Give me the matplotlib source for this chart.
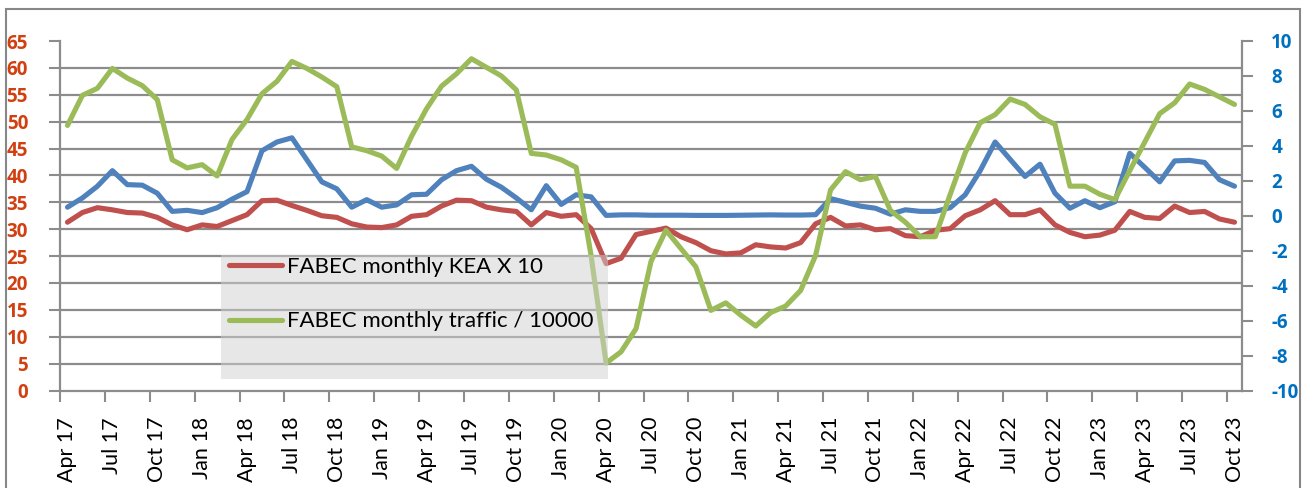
import matplotlib
matplotlib.use('Agg')
import matplotlib.pyplot as plt
from matplotlib.patches import Rectangle
import numpy as np

plt.rcParams['font.family'] = ['Lato', 'DejaVu Sans']
plt.rcParams['axes.unicode_minus'] = False

# ---------------- data (monthly, Apr 2017 .. Oct 2023) ----------------
tick_labels = ["Apr 17", "Jul 17", "Oct 17", "Jan 18", "Apr 18", "Jul 18", "Oct 18",
               "Jan 19", "Apr 19", "Jul 19", "Oct 19", "Jan 20", "Apr 20", "Jul 20",
               "Oct 20", "Jan 21", "Apr 21", "Jul 21", "Oct 21", "Jan 22", "Apr 22",
               "Jul 22", "Oct 22", "Jan 23", "Apr 23", "Jul 23", "Oct 23"]

kea_x10 = [31.3, 33.1, 34.0, 33.6, 33.1, 33.0, 32.2, 30.8, 29.9, 30.8, 30.5, 31.6, 32.7,
           35.3, 35.4, 34.4, 33.5, 32.5, 32.2, 31.0, 30.4, 30.3, 30.8, 32.4, 32.7, 34.3,
           35.4, 35.3, 34.1, 33.6, 33.3, 30.8, 33.1, 32.4, 32.7, 30.1, 23.6, 24.6, 29.0,
           29.6, 30.2, 28.6, 27.5, 26.0, 25.4, 25.6, 27.1, 26.7, 26.5, 27.5, 31.0, 32.2,
           30.6, 30.8, 29.9, 30.1, 28.8, 28.6, 29.8, 30.1, 32.5, 33.6, 35.3, 32.7, 32.7,
           33.6, 30.8, 29.4, 28.6, 28.9, 29.8, 33.3, 32.2, 32.0, 34.3, 33.1, 33.3, 31.9,
           31.3]

traffic_10k = [49.3, 54.9, 56.2, 59.9, 58.1, 56.7, 54.1, 42.9, 41.4, 42.0, 39.9, 46.7, 50.4,
               55.2, 57.5, 61.2, 59.9, 58.3, 56.5, 45.3, 44.6, 43.6, 41.3, 47.3, 52.4, 56.6,
               58.9, 61.7, 60.1, 58.5, 55.9, 44.1, 43.8, 42.9, 41.5, 25.0, 5.1, 7.2, 11.5,
               24.0, 29.8, 26.4, 23.0, 14.9, 16.3, 14.0, 12.0, 14.5, 15.7, 18.6, 25.1, 37.3,
               40.7, 39.2, 39.8, 33.5, 31.3, 28.6, 28.6, 36.5, 44.2, 49.8, 51.3, 54.2, 53.2,
               50.9, 49.5, 38.0, 38.0, 36.5, 35.5, 40.9, 46.2, 51.5, 53.5, 57.0, 56.0, 54.6,
               53.2]

# third series, plotted against the right-hand axis
right_series = [0.49, 1.02, 1.69, 2.58, 1.78, 1.75, 1.29, 0.25, 0.31, 0.18, 0.46, 0.95, 1.38,
                3.72, 4.22, 4.46, 3.20, 1.94, 1.54, 0.49, 0.92, 0.49, 0.62, 1.20, 1.23, 2.06,
                2.58, 2.83, 2.09, 1.63, 1.02, 0.34, 1.72, 0.65, 1.20, 1.08, 0.02, 0.05, 0.05,
                0.03, 0.03, 0.03, 0.02, 0.02, 0.02, 0.03, 0.04, 0.05, 0.04, 0.04, 0.06, 0.98,
                0.77, 0.55, 0.43, 0.09, 0.34, 0.25, 0.25, 0.46, 1.20, 2.58, 4.22, 3.23, 2.25,
                2.95, 1.29, 0.43, 0.86, 0.46, 0.80, 3.57, 2.77, 1.94, 3.14, 3.17, 3.05, 2.06,
                1.69]

left_ticks = list(range(0, 66, 5))
right_ticks = list(range(-10, 11, 2))

series_labels = ["FABEC monthly KEA X 10", "FABEC monthly traffic / 10000"]

# ---------------- styling ----------------
RED = '#C0504D'
GREEN = '#9BBB59'
BLUE = '#4F81BD'
GRID = '#8C8C8C'
LEFT_COL = '#D04010'
RIGHT_COL = '#0070C0'
LW = 3.7
BOLD_FAMILY = ['Open Sans', 'DejaVu Sans']

W, H = 1302, 488
fig = plt.figure(figsize=(W / 100, H / 100), dpi=100)
x0, x1, ytop, ybot = 60, 1242, 41, 390.5
ax1 = fig.add_axes([x0 / W, (H - ybot) / H, (x1 - x0) / W, (ybot - ytop) / H])
ax2 = ax1.twinx()
ax1.set_zorder(ax2.get_zorder() + 1)
ax1.patch.set_visible(False)

n = len(kea_x10)
x = np.arange(n)

ax2.plot(x, right_series, color=BLUE, lw=LW, solid_joinstyle='round', solid_capstyle='round')
ax1.plot(x, kea_x10, color=RED, lw=LW, solid_joinstyle='round', solid_capstyle='round',
         label=series_labels[0])
ax1.plot(x, traffic_10k, color=GREEN, lw=LW, solid_joinstyle='round', solid_capstyle='round',
         label=series_labels[1])

ax1.set_xlim(-0.5, n - 0.5)
ax1.set_ylim(0, 65)
ax2.set_ylim(-10, 10)

# horizontal gridlines (at left-axis values), drawn on the lower axes
ax2.set_yticks([v / 65 * 20 - 10 for v in left_ticks], minor=True)
ax2.yaxis.grid(True, which='minor', color=GRID, lw=1.6)
ax2.tick_params(axis='y', which='minor', length=0)

ax1.set_yticks(left_ticks)
ax1.set_yticklabels([str(v) for v in left_ticks], fontweight='bold', fontsize=13.5,
                    color=LEFT_COL, family=BOLD_FAMILY)
ax2.set_yticks(right_ticks)
ax2.set_yticklabels([str(v) for v in right_ticks], fontweight='bold', fontsize=13.5,
                    color=RIGHT_COL, family=BOLD_FAMILY)
ax1.tick_params(axis='y', which='major', length=8, width=1.5, color=GRID, pad=15)
ax2.tick_params(axis='y', which='major', length=8, width=1.5, color=GRID, pad=13)

# x axis: ticks between categories, labels on categories
ax1.set_xticks(np.arange(-0.5, n - 1, 3))
ax1.set_xticklabels([])
ax1.set_xticks(np.arange(0, n, 3), minor=True)
ax1.set_xticklabels(tick_labels, minor=True, rotation=90, fontsize=15.5)
ax1.tick_params(axis='x', which='major', length=8, width=1.5, color=GRID)
ax1.tick_params(axis='x', which='minor', length=0, pad=19)

for sp in ['top', 'right']:
    ax1.spines[sp].set_visible(False)
for sp in ['left', 'bottom']:
    ax1.spines[sp].set_color(GRID)
    ax1.spines[sp].set_linewidth(1.6)
for sp in ['top', 'left', 'bottom']:
    ax2.spines[sp].set_visible(False)
ax2.spines['right'].set_color(GRID)
ax2.spines['right'].set_linewidth(1.6)

# legend background (semi-transparent box)
bx0, bx1, by0, by1 = 221, 608, 379, 255
ax1.add_patch(Rectangle(((bx0 - x0) / (x1 - x0), (ybot - by0) / (ybot - ytop)),
                        (bx1 - bx0) / (x1 - x0), (by0 - by1) / (ybot - ytop),
                        transform=ax1.transAxes, facecolor='#D0D0D0', alpha=0.5,
                        edgecolor='none', zorder=5))
leg = ax1.legend(loc='upper left',
                 bbox_to_anchor=((229 - x0) / (x1 - x0), (ybot - 257) / (ybot - ytop)),
                 frameon=False, fontsize=16, handlelength=2.4, handletextpad=0.2,
                 labelspacing=1.55, borderpad=0, borderaxespad=0)
leg.set_zorder(6)

# outer chart border
fig.add_artist(Rectangle((6 / W, -0.05), (1300 - 6) / W, 1.05 - 9 / H,
                         transform=fig.transFigure, fill=False, edgecolor='#878787',
                         lw=1.5, clip_on=False))

fig.savefig('out.png', dpi=100)
